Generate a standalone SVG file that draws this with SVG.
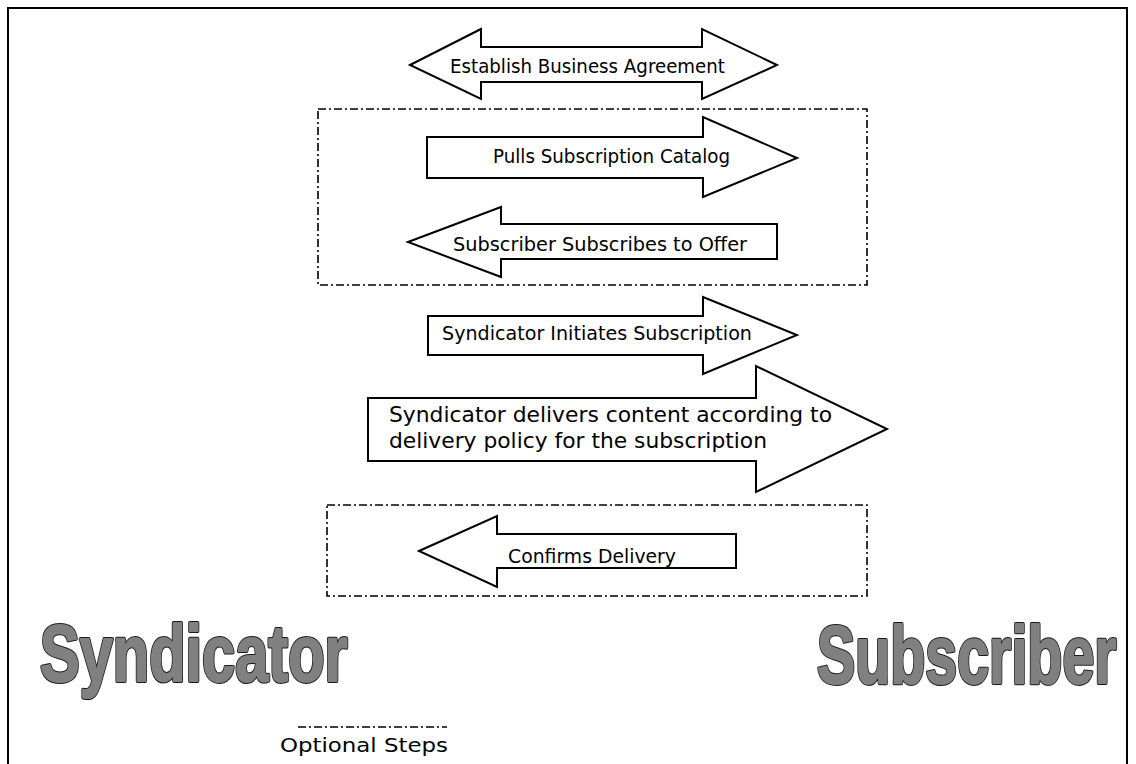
<svg xmlns="http://www.w3.org/2000/svg" width="1136" height="764" viewBox="0 0 1136 764">
<style>
.arrow{fill:#ffffff;stroke:#000000;stroke-width:2;stroke-linejoin:miter}
.opt{fill:none;stroke:#000000;stroke-width:1.6;stroke-dasharray:8 3 2 3}
.lbl{font-family:"DejaVu Sans","Liberation Sans",sans-serif;fill:#000000}
.bigo{font-family:"Liberation Sans",Arial,sans-serif;font-weight:bold;fill:#808080;stroke:#1a1a1a;stroke-width:4;stroke-linejoin:round}
.bigi{font-family:"Liberation Sans",Arial,sans-serif;font-weight:bold;fill:#808080;stroke:#808080;stroke-width:2;stroke-linejoin:round}
</style>
<rect x="0" y="0" width="1136" height="764" fill="#ffffff"/>
<rect x="8" y="8" width="1119" height="800" fill="none" stroke="#000000" stroke-width="2"/>
<g id="optional-group-1"><rect class="opt" x="318" y="109" width="549" height="176"/></g>
<g id="optional-group-2"><rect class="opt" x="327" y="505" width="540" height="91"/></g>
<g id="establish-agreement">
<polygon class="arrow" points="410,65 481,29 481,47 702,47 702,29 777,65 702,99 702,82 481,82 481,99"/>
<text class="lbl" x="450" y="73" font-size="19" textLength="275" lengthAdjust="spacingAndGlyphs">Establish Business Agreement</text>
</g>
<g id="pulls-catalog">
<polygon class="arrow" points="427,137 703,137 703,117 797,158 703,197 703,178 427,178"/>
<text class="lbl" x="493" y="163" font-size="19" textLength="237" lengthAdjust="spacingAndGlyphs">Pulls Subscription Catalog</text>
</g>
<g id="subscribes-offer">
<polygon class="arrow" points="408,242 501,207 501,224 777,224 777,259 501,259 501,277"/>
<text class="lbl" x="453" y="251" font-size="19" textLength="294" lengthAdjust="spacingAndGlyphs">Subscriber Subscribes to Offer</text>
</g>
<g id="initiates-subscription">
<polygon class="arrow" points="428,316 703,316 703,297 797,335 703,374 703,355 428,355"/>
<text class="lbl" x="442" y="340" font-size="19" textLength="310" lengthAdjust="spacingAndGlyphs">Syndicator Initiates Subscription</text>
</g>
<g id="delivers-content">
<polygon class="arrow" points="368,398 756,398 756,366 887,429 756,492 756,461 368,461"/>
<text class="lbl" x="389" y="422" font-size="21" textLength="443" lengthAdjust="spacingAndGlyphs">Syndicator delivers content according to</text>
<text class="lbl" x="389" y="448" font-size="21" textLength="378" lengthAdjust="spacingAndGlyphs">delivery policy for the subscription</text>
</g>
<g id="confirms-delivery">
<polygon class="arrow" points="419,551 497,516 497,534 736,534 736,568 497,568 497,587"/>
<text class="lbl" x="508" y="563" font-size="19" textLength="168" lengthAdjust="spacingAndGlyphs">Confirms Delivery</text>
</g>
<g id="connectors"></g>
<g id="syndicator" transform="translate(40,681) scale(0.745,1)">
<text class="bigo" x="0" y="0" font-size="80" textLength="413" lengthAdjust="spacingAndGlyphs">Syndicator</text>
<text class="bigi" x="0" y="0" font-size="80" textLength="413" lengthAdjust="spacingAndGlyphs">Syndicator</text>
</g>
<g id="subscriber" transform="translate(817,683) scale(0.70,1)">
<text class="bigo" x="0" y="0" font-size="82" textLength="428" lengthAdjust="spacingAndGlyphs">Subscriber</text>
<text class="bigi" x="0" y="0" font-size="82" textLength="428" lengthAdjust="spacingAndGlyphs">Subscriber</text>
</g>
<g id="legend">
<line class="opt" x1="298" y1="727" x2="447" y2="727"/>
<text class="lbl" x="280" y="752" font-size="20" textLength="168" lengthAdjust="spacingAndGlyphs">Optional Steps</text>
</g>
</svg>
